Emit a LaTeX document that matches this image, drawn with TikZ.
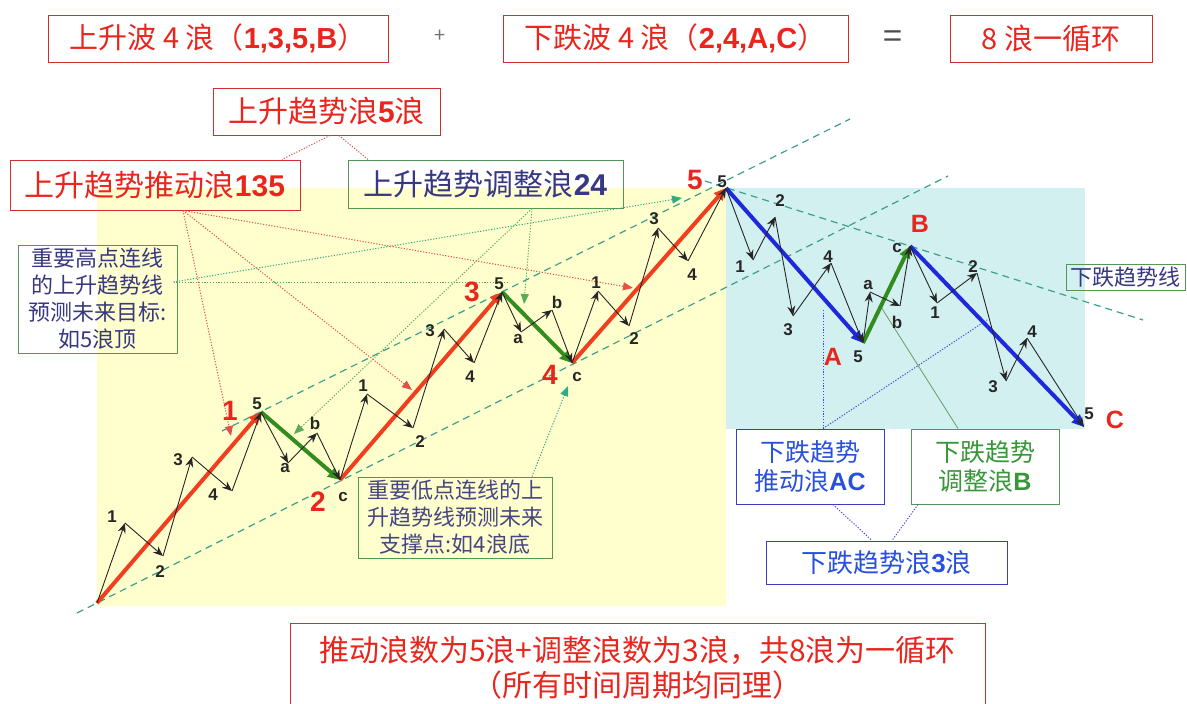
\documentclass[tikz,border=0pt]{standalone}
\usepackage{fontspec}
\setmainfont{Noto Sans CJK SC}
\newfontfamily\lat{Liberation Sans}
\usetikzlibrary{arrows.meta}
\definecolor{WaveRed}   {RGB}{240, 62, 30}
\definecolor{WaveGreen} {RGB}{ 50,140, 30}
\definecolor{WaveBlue}  {RGB}{ 30, 40,220}
\definecolor{LabelRed}  {RGB}{232, 38, 30}
\definecolor{BoxRed}    {RGB}{212, 45, 45}
\definecolor{BoxGreen}  {RGB}{ 85,150, 85}
\definecolor{BoxBlue}   {RGB}{ 60, 60,190}
\definecolor{TextNavy}  {RGB}{ 55, 55,130}
\definecolor{TextBlue}  {RGB}{ 40, 80,220}
\definecolor{TextGreen} {RGB}{ 55,150, 55}
\definecolor{TrendTeal} {RGB}{ 60,160,140}
\definecolor{YellowBg}  {RGB}{255,255,206}
\definecolor{CyanBg}    {RGB}{210,240,240}
\definecolor{GuideRed}  {RGB}{228, 80, 70}
\definecolor{GuideGreen}{RGB}{ 90,170, 90}
\definecolor{GuideTeal} {RGB}{ 50,170,130}
\definecolor{GuideBlue} {RGB}{ 70, 70,210}
\tikzset{
  % Framed text box, frame colour as argument
  wavebox/.style={
    rectangle, draw=#1, line width=1pt, inner sep=2pt, align=center
  },
  wavebox/.default=BoxRed,
  % Main (degree one) waves
  mainwave/.style={
    -{Triangle[length=12pt,width=11pt]}, line width=4pt, color=#1
  },
  % Sub waves
  subwave/.style={
    -{Stealth[length=10pt,width=8pt]}, line width=0.9pt, color=black!85
  },
  sublbl/.style={
    font=\lat\bfseries\fontsize{17}{17}\selectfont, text=black!85, inner sep=0pt
  },
  biglbl/.style={
    font=\lat\bfseries\fontsize{28}{28}\selectfont, text=LabelRed, inner sep=0pt
  },
  % Channel and trend lines
  trendline/.style={
    dash pattern=on 7pt off 5pt, line width=1.2pt, color=TrendTeal
  },
  % Dotted pointers from the text boxes
  guide/.style={
    dash pattern=on 1.2pt off 1.6pt, line width=1pt, color=#1
  },
  guidearrow/.style={
    guide=#1, -{Triangle[length=10pt,width=8pt]}
  }
}
\begin{document}
\begin{tikzpicture}[x=1pt, y=-1pt]
  \useasboundingbox (0,0) rectangle (1187,704);
  \clip (0,0) rectangle (1187,704);

  % ── BACKGROUND PANELS ────────────────────────────────────────────────────
  \fill[YellowBg] (97,188) rectangle (726,606);
  \fill[CyanBg]   (726,188) rectangle (1085,429);

  % ── WAVE POINTS ──────────────────────────────────────────────────────────
  \coordinate (w0) at (97,603);
  \coordinate (w1) at (261,412);
  \coordinate (w2) at (340,480);
  \coordinate (w3) at (502,292);
  \coordinate (w4) at (572,363);
  \coordinate (w5) at (726,188);
  \coordinate (wa) at (863,343);
  \coordinate (wb) at (910,246);
  \coordinate (wc) at (1084,427);

  % sub wave turning points
  \coordinate (s1a) at (125,523);  \coordinate (s1b) at (163,556);
  \coordinate (s1c) at (192,457);  \coordinate (s1d) at (232,491);
  \coordinate (s2a) at (288,463);  \coordinate (s2b) at (317,433);
  \coordinate (s3a) at (367,394);  \coordinate (s3b) at (413,428);
  \coordinate (s3c) at (444,329);  \coordinate (s3d) at (474,363);
  \coordinate (s4a) at (521,332);  \coordinate (s4b) at (552,310);
  \coordinate (s5a) at (598,291);  \coordinate (s5b) at (629,326);
  \coordinate (s5c) at (658,228);  \coordinate (s5d) at (688,261);
  \coordinate (sAa) at (753,260);  \coordinate (sAb) at (775,217);
  \coordinate (sAc) at (793,316);  \coordinate (sAd) at (831,263);
  \coordinate (sBa) at (870,292);  \coordinate (sBb) at (900,306);
  \coordinate (sCa) at (937,303);  \coordinate (sCb) at (977,273);
  \coordinate (sCc) at (1006,381); \coordinate (sCd) at (1027,338);

  % ── TREND LINES ──────────────────────────────────────────────────────────
  \coordinate (hiA) at (222,431);  \coordinate (hiB) at (850,119);
  \coordinate (loA) at (77,613);   \coordinate (loB) at (948,176);
  \coordinate (dnA) at (705,181);  \coordinate (dnB) at (1143,320);
  \draw[trendline] (hiA) -- (hiB);
  \draw[trendline] (loA) -- (loB);
  \draw[trendline] (dnA) -- (dnB);

  % ── TEXT BOXES ───────────────────────────────────────────────────────────
  \node[wavebox, text=LabelRed, font=\fontsize{29}{30}\selectfont,
        minimum width=340pt, minimum height=47pt] (top1) at (218,38.5)
        {上升波 4 浪（{\lat\bfseries 1,3,5,B}）};
  \node[text=black!55, font=\fontsize{20}{20}\selectfont] (plus) at (440,36) {+};
  \node[wavebox, text=LabelRed, font=\fontsize{29}{30}\selectfont,
        minimum width=345pt, minimum height=47pt] (top2) at (675.5,38.5)
        {下跌波 4 浪（{\lat\bfseries 2,4,A,C}）};
  \node[text=black!70, font=\fontsize{34}{34}\selectfont] (equal) at (893,40) {=};
  \node[wavebox, text=LabelRed, font=\fontsize{29}{30}\selectfont,
        minimum width=202pt, minimum height=47pt] (top3) at (1051,38.5)
        {8 浪一循环};

  \node[wavebox, text=LabelRed, font=\fontsize{30}{30}\selectfont,
        minimum width=227pt, minimum height=47pt] (b5) at (326.5,111.5)
        {上升趋势浪{\lat\bfseries 5}浪};
  \node[wavebox, text=LabelRed, font=\fontsize{30}{30}\selectfont,
        minimum width=290pt, minimum height=50pt] (b135) at (155,185)
        {上升趋势推动浪{\lat\bfseries 135}};
  \node[wavebox=BoxGreen, text=TextNavy, font=\fontsize{30}{30}\selectfont,
        minimum width=275pt, minimum height=48pt] (b24) at (485.5,184)
        {上升趋势调整浪{\lat\bfseries 24}};
  \node[wavebox=BoxGreen, text=TextNavy, font=\fontsize{22}{27}\selectfont,
        minimum width=159pt, minimum height=108pt] (bhigh) at (97.5,299)
        {重要高点连线\\的上升趋势线\\预测未来目标:\\如5浪顶};
  \node[wavebox=BoxGreen, text=TextNavy!80!gray, font=\fontsize{22}{27}\selectfont,
        minimum width=194pt, minimum height=81pt] (blow) at (455,517.5)
        {重要低点连线的上\\升趋势线预测未来\\支撑点:如4浪底};
  \node[wavebox=BoxGreen, text=TextNavy, font=\fontsize{22}{24}\selectfont,
        minimum width=119pt, minimum height=26pt, inner sep=0pt] (bdown) at (1125.5,277)
        {下跌趋势线};
  \node[wavebox=BoxBlue, text=TextBlue, font=\fontsize{25}{29}\selectfont,
        minimum width=148pt, minimum height=75pt] (bAC) at (810,466.5)
        {下跌趋势\\推动浪{\lat\bfseries AC}};
  \node[wavebox=BoxGreen, text=TextGreen, font=\fontsize{25}{29}\selectfont,
        minimum width=148pt, minimum height=75pt] (bB) at (985,466.5)
        {下跌趋势\\调整浪{\lat\bfseries B}};
  \node[wavebox=BoxBlue, text=TextBlue, font=\fontsize{26}{29}\selectfont,
        minimum width=241pt, minimum height=43pt] (b3) at (886.5,562.5)
        {下跌趋势浪{\lat\bfseries 3}浪};
  \node[wavebox, text=LabelRed, font=\fontsize{30}{35}\selectfont,
        minimum width=695pt, minimum height=90pt] (bsum) at (637.5,668)
        {推动浪数为5浪+调整浪数为3浪，共8浪为一循环\\（所有时间周期均同理）};

  % ── POINTERS FROM THE BOXES ──────────────────────────────────────────────
  \coordinate (t1) at (231,436);
  \coordinate (t2) at (294,434);
  \coordinate (t3) at (412,390);
  \coordinate (t4) at (524,304);
  \coordinate (t5) at (633,288);
  \coordinate (tlow) at (568,386);
  \coordinate (thigh) at (682,198);
  \coordinate (tmid) at (508,282);
  \coordinate (tA) at (823,310);
  \coordinate (tC) at (987,320);
  \coordinate (tB) at (881,307);

  \draw[guide=GuideRed] ([xshift=3.5pt]b5.south) -- ([xshift=127pt]b135.north);
  \draw[guide=GuideRed] ([xshift=12.5pt]b5.south) -- ([xshift=-117.5pt]b24.north);

  \draw[guidearrow=GuideRed] ([xshift=28pt]b135.south) -- (t1);
  \draw[guidearrow=GuideRed] ([xshift=28pt]b135.south) -- (t3);
  \draw[guidearrow=GuideRed] ([xshift=28pt]b135.south) -- (t5);

  \draw[guidearrow=GuideGreen] ([xshift=46.5pt]b24.south) -- (t2);
  \draw[guidearrow=GuideGreen] ([xshift=46.5pt]b24.south) -- (t4);

  \draw[guide=GuideGreen] ([xshift=-4pt,yshift=17pt]bhigh.east) -- (tmid);
  \draw[guidearrow=GuideTeal] ([xshift=-4pt,yshift=17pt]bhigh.east) -- (thigh);

  \draw[guidearrow=GuideTeal] ([xshift=77pt]blow.north) -- (tlow);

  \draw[guide=GuideBlue] ([xshift=13pt]bAC.north) -- (tA);
  \draw[guide=GuideBlue] ([xshift=13pt]bAC.north) -- (tC);
  \draw[line width=0.8pt, color=GuideGreen!70!gray] ([xshift=-27pt]bB.north) -- (tB);
  \draw[guide=GuideBlue] ([xshift=23pt]bAC.south) -- ([xshift=-14.5pt]b3.north);
  \draw[guide=GuideBlue] ([xshift=-67pt]bB.south) -- ([xshift=5.5pt]b3.north);

  % ── MAIN WAVES ───────────────────────────────────────────────────────────
  \draw[mainwave=WaveRed]   (w0) -- (w1);
  \draw[mainwave=WaveGreen] (w1) -- (w2);
  \draw[mainwave=WaveRed]   (w2) -- (w3);
  \draw[mainwave=WaveGreen] (w3) -- (w4);
  \draw[mainwave=WaveRed]   (w4) -- (w5);
  \draw[mainwave=WaveBlue]  (w5) -- (wa);
  \draw[mainwave=WaveGreen] (wa) -- (wb);
  \draw[mainwave=WaveBlue]  (wb) -- (wc);

  % ── SUB WAVES ────────────────────────────────────────────────────────────
  \foreach \p/\q in {w0/s1a, s1a/s1b, s1b/s1c, s1c/s1d, s1d/w1,
                     w1/s2a, s2a/s2b, s2b/w2,
                     w2/s3a, s3a/s3b, s3b/s3c, s3c/s3d, s3d/w3,
                     w3/s4a, s4a/s4b, s4b/w4,
                     w4/s5a, s5a/s5b, s5b/s5c, s5c/s5d, s5d/w5,
                     w5/sAa, sAa/sAb, sAb/sAc, sAc/sAd, sAd/wa,
                     wa/sBa, sBa/sBb, sBb/wb,
                     wb/sCa, sCa/sCb, sCb/sCc, sCc/sCd, sCd/wc}
    \draw[subwave] (\p) -- (\q);

  % sub wave labels
  \foreach \n/\t/\x/\y in {l11/1/112/517, l12/2/160/572, l13/3/178/460, l14/4/213/495, l15/5/257/404,
                           l2a/a/285/468, l2b/b/315/423, l2c/c/343/497,
                           l31/1/363/386, l32/2/420/442, l33/3/430/331, l34/4/470/377, l35/5/499/284,
                           l4a/a/518/339, l4b/b/557/302, l4c/c/577/377,
                           l51/1/596/283, l52/2/634/339, l53/3/654/219, l54/4/692/275, l55/5/722/182,
                           lA1/1/740/267, lA2/2/780/201, lA3/3/788/330, lA4/4/828/257, lA5/5/858/357,
                           lBa/a/868/285, lBb/b/897/322, lBc/c/897/248,
                           lC1/1/935/313, lC2/2/973/267, lC3/3/993/387, lC4/4/1032/332, lC5/5/1089/414}
    \node[sublbl] (\n) at (\x,\y) {\t};

  % main wave labels
  \foreach \n/\t/\x/\y in {m1/1/230/411, m2/2/318/502, m3/3/472/292, m4/4/550/375, m5/5/695/180}
    \node[biglbl] (\n) at (\x,\y) {\t};
  \foreach \n/\t/\x/\y in {mA/A/833/357, mB/B/920/224, mC/C/1115/420}
    \node[biglbl, font=\lat\bfseries\fontsize{25}{25}\selectfont] (\n) at (\x,\y) {\t};

\end{tikzpicture}
\end{document}
